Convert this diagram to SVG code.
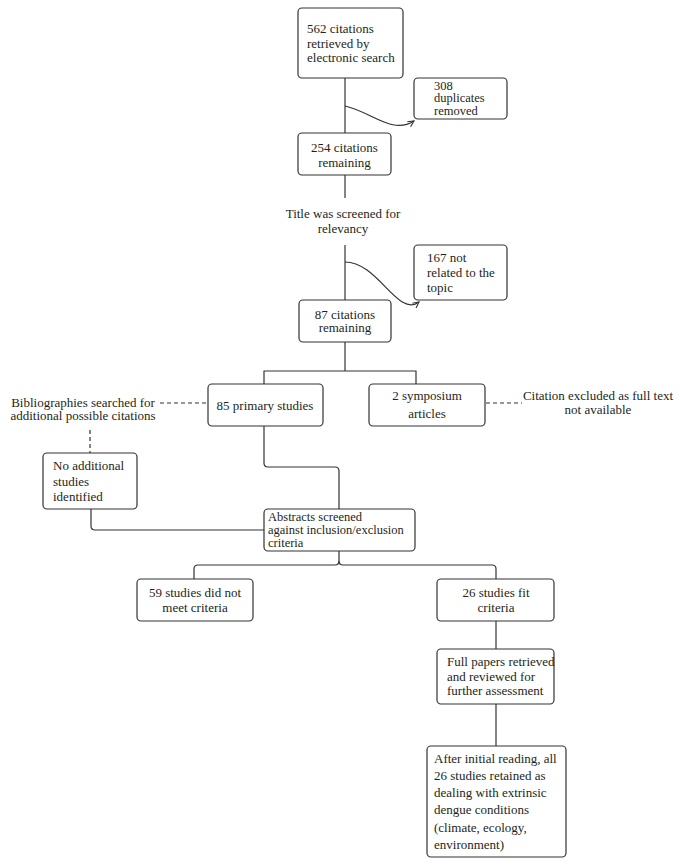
<svg xmlns="http://www.w3.org/2000/svg" width="683" height="866" viewBox="0 0 683 866">
<style>
  .box { fill: #fff; stroke: #333; stroke-width: 1.2; }
  text { font-family: "Liberation Serif", "Times New Roman", serif; font-size: 13px; fill: #231f20; }
  .c { text-anchor: middle; }
  .t { font-size: 12.5px; }
  .ln { fill: none; stroke: #333; stroke-width: 1.2; }
  .dash { fill: none; stroke: #333; stroke-width: 1.2; stroke-dasharray: 4 3; }
</style>
<defs>
  <marker id="arr" viewBox="0 0 8 8" refX="7" refY="4" markerWidth="8" markerHeight="8" markerUnits="userSpaceOnUse" orient="auto">
    <path d="M1,1 L7,4 L1,7" fill="none" stroke="#333" stroke-width="1.1"/>
  </marker>
</defs>
<rect width="683" height="866" fill="#fff"/>

<g id="connectors">
  <path class="ln" d="M345,78 V133"/>
  <path class="ln" d="M345,175 V198"/>
  <path class="ln" d="M345,245 V300"/>
  <path class="ln" d="M345,342 V371"/>
  <path class="ln" d="M264,384 V371 H416 V384"/>
  <path class="ln" d="M345,106 C372,112 392,135 414,121" marker-end="url(#arr)"/>
  <path class="ln" d="M345,262 C378,262 398,318 419,302" marker-end="url(#arr)"/>
  <path class="dash" d="M160,403 H207"/>
  <path class="dash" d="M486,403 H522"/>
  <path class="dash" d="M90,430 V453"/>
  <path class="ln" d="M91,509 V526 Q91,530 95,530 H264"/>
  <path class="ln" d="M264,426 V463 Q264,467 268,467 H335 Q339,467 339,471 V509"/>
  <path class="ln" d="M339,551 V561 Q339,565 335,565 H198 Q194,565 194,569 V579"/>
  <path class="ln" d="M339,561 Q339,565 343,565 H492 Q496,565 496,569 V579"/>
  <path class="ln" d="M496,621 V649"/>
  <path class="ln" d="M496,704 V746"/>
</g>

<g id="n562">
  <rect class="box" x="298" y="8" width="105" height="70" rx="4"/>
  <text x="307" y="33">562 citations</text>
  <text x="307" y="47.5">retrieved by</text>
  <text x="307" y="62">electronic search</text>
</g>
<g id="n308">
  <rect class="box" x="414" y="78" width="93" height="41" rx="4"/>
  <text class="t" x="434" y="89.5">308</text>
  <text class="t" x="434" y="102">duplicates</text>
  <text class="t" x="434" y="114.5">removed</text>
</g>
<g id="n254">
  <rect class="box" x="298" y="133" width="93" height="42" rx="4"/>
  <text class="c" x="344.5" y="151.5">254 citations</text>
  <text class="c" x="344.5" y="166.5">remaining</text>
</g>
<g id="title">
  <text class="c" x="343" y="217.5">Title was screened for</text>
  <text class="c" x="343" y="233">relevancy</text>
</g>
<g id="n167">
  <rect class="box" x="414" y="245" width="93" height="55" rx="4"/>
  <text x="427" y="261.5">167 not</text>
  <text x="427" y="276.5">related to the</text>
  <text x="427" y="291.5">topic</text>
</g>
<g id="n87">
  <rect class="box" x="299" y="300" width="92" height="42" rx="4"/>
  <text class="c" x="345" y="318.5">87 citations</text>
  <text class="c" x="345" y="332">remaining</text>
</g>
<g id="n85">
  <rect class="box" x="208" y="384" width="115" height="42" rx="4"/>
  <text class="c" x="265" y="409.5">85 primary studies</text>
</g>
<g id="n2">
  <rect class="box" x="369" y="384" width="116" height="42" rx="4"/>
  <text class="c" x="427" y="399.5">2 symposium</text>
  <text class="c" x="427" y="417.5">articles</text>
</g>
<g id="bib">
  <text class="c" x="83" y="406.5">Bibliographies searched for</text>
  <text class="c" x="83" y="420">additional possible citations</text>
</g>
<g id="excl">
  <text class="c" x="598" y="399.5">Citation excluded as full text</text>
  <text class="c" x="598" y="413.5">not available</text>
</g>
<g id="noadd">
  <rect class="box" x="43" y="453" width="94" height="56" rx="4"/>
  <text x="53" y="469.5">No additional</text>
  <text x="53" y="485.5">studies</text>
  <text x="53" y="500.5">identified</text>
</g>
<g id="abstracts">
  <rect class="box" x="264" y="509" width="151" height="42" rx="4"/>
  <text class="t" x="268" y="520.5">Abstracts screened</text>
  <text class="t" x="268" y="533.5">against inclusion/exclusion</text>
  <text class="t" x="268" y="546.5">criteria</text>
</g>
<g id="n59">
  <rect class="box" x="137" y="579" width="116" height="42" rx="4"/>
  <text class="c" x="195" y="596.5">59 studies did not</text>
  <text class="c" x="195" y="611.5">meet criteria</text>
</g>
<g id="n26">
  <rect class="box" x="437" y="579" width="117" height="42" rx="4"/>
  <text class="c" x="496" y="596.5">26 studies fit</text>
  <text class="c" x="496" y="611.5">criteria</text>
</g>
<g id="full">
  <rect class="box" x="437" y="649" width="117" height="55" rx="4"/>
  <text x="447" y="665.5">Full papers retrieved</text>
  <text x="447" y="680.5">and reviewed for</text>
  <text x="447" y="694.5">further assessment</text>
</g>
<g id="final">
  <rect class="box" x="427" y="746" width="139" height="111" rx="4"/>
  <text x="434" y="762.5">After initial reading, all</text>
  <text x="434" y="780">26 studies retained as</text>
  <text x="434" y="797">dealing with extrinsic</text>
  <text x="434" y="814">dengue conditions</text>
  <text x="434" y="831.5">(climate, ecology,</text>
  <text x="434" y="848.5">environment)</text>
</g>
</svg>
